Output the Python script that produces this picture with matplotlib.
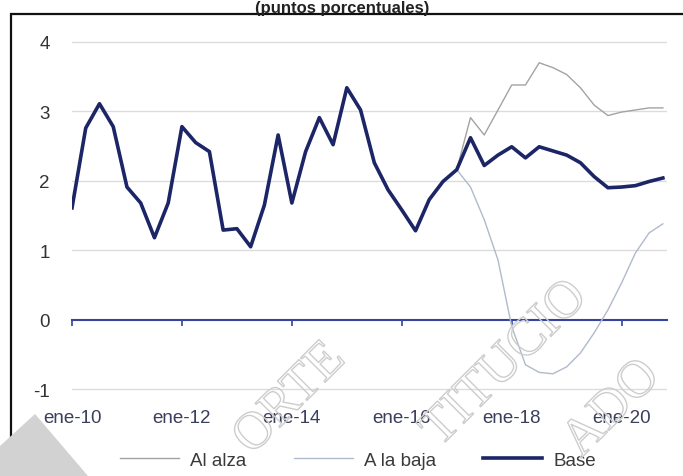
import matplotlib
matplotlib.use('Agg')
from matplotlib import pyplot as plt
from matplotlib import patheffects as pe
from matplotlib.patches import Polygon, Rectangle
import numpy as np

# datos trimestrales ene-10 .. oct-20
quarters = np.arange(44)
base = [1.61, 2.76, 3.11, 2.78, 1.91, 1.68, 1.18, 1.68, 2.78, 2.55,
        2.42, 1.29, 1.31, 1.05, 1.65, 2.66, 1.68, 2.42, 2.91, 2.52,
        3.34, 3.02, 2.26, 1.87, 1.58, 1.28, 1.73, 1.99, 2.16, 2.62,
        2.22, 2.37, 2.49, 2.33, 2.49, 2.43, 2.37, 2.26, 2.06, 1.90,
        1.91, 1.93, 1.99, 2.04]
esc_start = 28
al_alza = [2.16, 2.91, 2.66, 3.02, 3.38, 3.38, 3.70, 3.63, 3.53, 3.34,
           3.09, 2.94, 2.99, 3.02, 3.05, 3.05]
a_la_baja = [2.16, 1.91, 1.44, 0.86, -0.10, -0.65, -0.76, -0.78, -0.68, -0.48,
             -0.19, 0.14, 0.53, 0.96, 1.25, 1.38]
tick_pos = [0, 8, 16, 24, 32, 40]
tick_lab = ['ene-10', 'ene-12', 'ene-14', 'ene-16', 'ene-18', 'ene-20']

plt.rcParams['font.family'] = ['Liberation Sans', 'DejaVu Sans']
plt.rcParams['axes.unicode_minus'] = False

W, H = 683, 477
fig = plt.figure(figsize=(W/100, H/100), dpi=100)
ax = fig.add_axes([72/W, 1-397/H, 595/W, (397-36)/H])

esc_x = quarters[esc_start:]
l1, = ax.plot(esc_x, al_alza, color='#a3a3a0', lw=1.0, zorder=3)
l2, = ax.plot(esc_x, a_la_baja, color='#b0bacb', lw=1.0, zorder=3)
l3, = ax.plot(quarters, base, color='#1c2566', lw=2.6, zorder=4)

ax.set_xlim(0, 43.3)
ax.set_ylim(-1.1, 4.1)
ax.set_yticks([-1, 0, 1, 2, 3, 4])
for v in [-1, 1, 2, 3, 4]:
    ax.axhline(v, color='#dcdcdc', lw=1.0, zorder=1)

for s in ['top', 'right', 'left']:
    ax.spines[s].set_visible(False)
ax.spines['bottom'].set_position(('data', 0))
ax.spines['bottom'].set_color('#3444a0')
ax.spines['bottom'].set_linewidth(1.5)
ax.set_xticks(tick_pos)
ax.set_xticklabels(tick_lab)
ax.tick_params(axis='x', direction='out', length=4, width=1.2, color='#3444a0',
               pad=60, labelsize=13.5, labelcolor='#3a3f5c')
ax.tick_params(axis='y', length=0, pad=16, labelsize=13.5, labelcolor='#333333')

fig.legend([l1, l2, l3], ['Al alza', 'A la baja', 'Base'], ncol=3,
           loc='center', bbox_to_anchor=(358/W, 1-461/H), frameon=False,
           fontsize=13.5, handlelength=3.15, handletextpad=0.6, columnspacing=2.5,
           labelcolor='#3a3a3a')

# titulo (cortado arriba en el original)
fig.text(342/W, 1-13/H, '(puntos porcentuales)', ha='center', va='baseline',
         fontsize=12, fontweight='bold', color='#222222')

# marco
fig.patches.append(Rectangle((11/W, -0.1), 1.1, 1.1 - 14.5/H, transform=fig.transFigure,
                             fill=False, ec='#111111', lw=1.6, zorder=0))

# marca de agua
fig.patches.append(Polygon([(0, 1-447/H), (35/W, 1-415/H), (88/W, 0), (0, 0)],
                           closed=True, transform=fig.transFigure,
                           fc='#d2d2d2', ec='none', zorder=0.5))
wm = dict(family='Liberation Serif', fontsize=38, color=(1, 1, 1, 0), rotation=45,
          ha='center', va='center', rotation_mode='anchor', zorder=10,
          path_effects=[pe.withStroke(linewidth=1.0, foreground='#cdcdcd')])
fig.text(290/W, 1-400/H, 'ORTE', **wm)
fig.text(505/W, 1-365/H, 'TITUCIO', **wm)
fig.text(612/W, 1-410/H, 'ADO', **wm)

fig.savefig('out.png', dpi=100)
